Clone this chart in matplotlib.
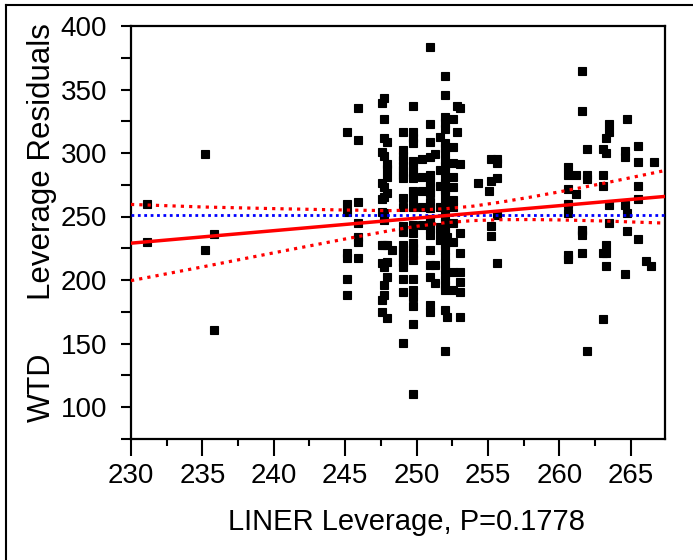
import matplotlib
matplotlib.use("Agg")
import matplotlib.pyplot as plt
from matplotlib.lines import Line2D
from matplotlib.ticker import MultipleLocator

plt.rcParams['font.family'] = ['Liberation Sans', 'DejaVu Sans']

# leverage x positions (columns) and the residual values stacked in each column
col_x = [231.1, 235.2, 235.8, 245.1, 245.9, 247.6, 247.75, 247.9, 248.3,
         249.06, 249.76, 250.35, 250.92, 251.3, 251.62, 251.97, 252.15,
         252.56, 252.85, 253.05, 254.3, 255.05, 255.23, 255.6, 260.64,
         261.2, 261.58, 261.95, 263.08, 263.26, 263.45, 264.58, 264.76,
         265.5, 266.07, 266.44, 266.62]
col_y = [
    [259.6, 229.9],
    [299.2, 223.6],
    [236.5, 160.6],
    [316.3, 259.6, 253.5, 221.5, 217.3, 200.8, 188.0],
    [335.2, 310.0, 261.7, 244.6, 234.1, 229.9, 217.3],
    [339.1, 301.0, 276.6, 264.1, 253.3, 227.6, 213.1, 184.3, 175.0],
    [343.6, 326.5, 312.0, 297.6, 273.0, 265.0, 253.0, 247.2, 227.6, 210.5, 196.1, 188.2],
    [308.9, 291.3, 287.1, 280.8, 268.8, 227.6, 214.4, 202.6, 169.8],
    [223.6],
    [316.3, 302.4, 298.0, 294.5, 290.0, 286.6, 283.0, 280.1, 264.3, 257.7, 242.5,
     238.0, 227.6, 224.0, 221.0, 217.0, 214.4, 210.5, 200.6, 190.3, 150.1],
    [337.2, 316.3, 312.0, 307.6, 294.0, 290.6, 285.0, 280.1, 270.3, 264.0, 257.7,
     243.3, 236.8, 228.9, 225.0, 221.0, 215.7, 200.6, 192.1, 186.9, 179.5, 165.1, 110.2],
    [295.3, 280.9, 270.3, 257.7, 243.3],
    [383.5, 322.8, 308.4, 297.1, 283.0, 277.4, 273.0, 268.3, 261.7, 256.5, 248.0,
     244.7, 240.0, 235.4, 224.0, 211.8, 202.6, 180.3, 175.0],
    [299.2, 211.8, 197.4],
    [312.8, 286.6, 274.0, 257.7, 242.0, 238.0, 231.5],
    [360.6, 345.7, 328.6, 323.4, 319.0, 307.6, 304.0, 299.8, 294.5, 290.0, 286.6,
     280.1, 276.0, 271.0, 266.9, 260.4, 253.8, 249.0, 245.0, 241.0, 236.8, 232.0,
     228.0, 223.6, 218.3, 213.1, 207.9, 204.0, 200.0, 196.0, 192.1, 176.4, 144.1],
    [234.1, 171.1],
    [326.5, 304.5, 291.9, 280.9, 273.5, 263.0, 257.7, 244.6, 230.2, 206.5, 192.1],
    [337.2, 316.3],
    [335.2, 291.3, 236.8, 221.0, 206.5, 198.7, 190.3, 171.1],
    [276.1],
    [269.8],
    [295.0, 278.2, 242.5, 234.6],
    [295.0, 292.4, 280.3, 250.9, 213.1],
    [288.7, 282.4, 271.9, 259.8, 253.0, 219.4, 216.8],
    [282.4, 267.7],
    [364.6, 333.0, 239.4, 238.3, 235.7, 221.5],
    [303.4, 282.4, 279.8, 143.9],
    [303.4, 282.4, 274.0, 221.5, 169.0],
    [311.8, 299.8, 227.8, 221.5, 211.0],
    [322.8, 316.5, 259.3, 244.6],
    [301.8, 297.1, 259.3, 204.7],
    [326.8, 253.0, 238.3],
    [305.5, 292.9, 274.0, 263.5, 232.0],
    [215.2],
    [211.0],
    [292.9],
]

# fit line, mean line and confidence curves
fit_x = [230.0, 267.4]
fit_y = [229.0, 265.8]
mean_y = 251.0
band_x = [230, 235, 240, 245, 248, 250, 252, 254, 256, 258, 260, 263, 267.4]
band_hi = [259.5, 257.5, 256.2, 255.1, 254.6, 255.1, 256.1, 258.2, 261.5, 265.3, 269.4, 275.9, 286.2]
band_lo = [199.5, 210.3, 221.4, 232.3, 238.6, 242.3, 245.1, 246.8, 247.5, 247.6, 247.3, 246.5, 244.8]

xs, ys = [], []
for x, vals in zip(col_x, col_y):
    for v in vals:
        xs.append(x)
        ys.append(v)

W, H = 693, 560
fig = plt.figure(figsize=(W / 100, H / 100), dpi=100)
ax = fig.add_axes([131 / W, 1 - 438.75 / H, (665 - 131) / W, (438.75 - 26) / H])

ax.plot(xs, ys, 's', color='black', ms=5.6, mew=0.8, mec='black', zorder=2)
ax.axhline(mean_y, color='#0000ff', lw=2, ls=(0, (1, 1.3)), zorder=3)
ax.plot(band_x, band_hi, color='#ff0000', lw=2.3, ls=(0, (1, 1.6)), zorder=3)
ax.plot(band_x, band_lo, color='#ff0000', lw=2.3, ls=(0, (1, 1.6)), zorder=3)
ax.plot(fit_x, fit_y, color='#ff0000', lw=2.5, zorder=4)

ax.set_xlim(230, 267.4)
ax.set_ylim(75, 400)
ax.xaxis.set_major_locator(MultipleLocator(5))
ax.xaxis.set_minor_locator(MultipleLocator(2.5))
ax.yaxis.set_major_locator(MultipleLocator(50))
ax.yaxis.set_minor_locator(MultipleLocator(25))

ax.tick_params(axis='x', which='major', length=12.2, width=1.5, pad=5, labelsize=20, direction='out')
ax.tick_params(axis='x', which='minor', length=5, width=1.5, direction='out')
ax.tick_params(axis='y', which='both', length=7.2, width=1.5, pad=10, labelsize=20, direction='out')
for sp in ax.spines.values():
    sp.set_linewidth(1.6)

fig.text(407 / W, 1 - 530 / H, "LINER Leverage, P=0.1778", fontsize=21,
         ha='center', va='baseline')
fig.text(42 / W, 1 - 422 / H, "WTD", fontsize=22, rotation=90, ha='center', va='bottom')
fig.text(42 / W, 1 - 300 / H, "Leverage Residuals", fontsize=22.5, rotation=90,
         ha='center', va='bottom')

# outer frame of the report box
fig.add_artist(Line2D([6 / W, 6 / W], [0, 1 - 5 / H], transform=fig.transFigure,
                      color='black', lw=1.5))
fig.add_artist(Line2D([6 / W, 1], [1 - 5 / H, 1 - 5 / H], transform=fig.transFigure,
                      color='black', lw=1.5))

fig.savefig('out.png', dpi=100)
